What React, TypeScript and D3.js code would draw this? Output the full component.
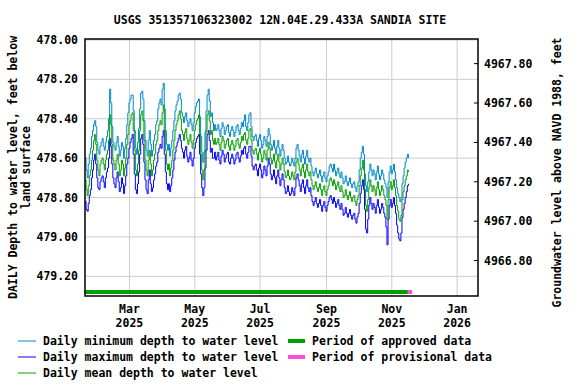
import * as d3 from "d3";

// site + axis setup
const title = "USGS 351357106323002 12N.04E.29.433A SANDIA SITE";
const leftTitle = ["DAILY Depth to water level, feet below", "land surface"];
const rightTitle = "Groundwater level above NAVD 1988, feet";
const landSurface = 5445.92; // elevation of land surface, feet NAVD 1988
const depthTicks = [478.0, 478.2, 478.4, 478.6, 478.8, 479.0, 479.2];
const elevTicks = [4967.8, 4967.6, 4967.4, 4967.2, 4967.0, 4966.8];
const firstDay = new Date(2025, 0, 18, 12);

// daily depth to water, feet below land surface (first value = Jan 18 2025)
const meanDepth = [
  478.71, 478.76, 478.79, 478.74, 478.69, 478.66, 478.61, 478.56, 478.51, 478.48,
  478.53, 478.61, 478.66, 478.69, 478.63, 478.61, 478.6, 478.63, 478.66, 478.61,
  478.58, 478.56, 478.51, 478.38, 478.43, 478.53, 478.61, 478.63, 478.66, 478.61,
  478.58, 478.63, 478.69, 478.66, 478.61, 478.63, 478.69, 478.65, 478.6, 478.53,
  478.48, 478.43, 478.41, 478.38, 478.37, 478.46, 478.56, 478.66, 478.69, 478.63,
  478.56, 478.46, 478.38, 478.36, 478.41, 478.51, 478.61, 478.66, 478.69, 478.61,
  478.56, 478.63, 478.69, 478.66, 478.61, 478.58, 478.53, 478.51, 478.46, 478.43,
  478.41, 478.43, 478.37, 478.33, 478.46, 478.56, 478.63, 478.66, 478.63, 478.69,
  478.65, 478.61, 478.56, 478.51, 478.46, 478.43, 478.41, 478.38, 478.36, 478.4,
  478.46, 478.48, 478.51, 478.47, 478.45, 478.5, 478.53, 478.51, 478.48, 478.52,
  478.55, 478.51, 478.46, 478.43, 478.41, 478.4, 478.38, 478.48, 478.58, 478.66,
  478.71, 478.66, 478.56, 478.46, 478.38, 478.36, 478.41, 478.48, 478.46, 478.51,
  478.53, 478.5, 478.53, 478.52, 478.5, 478.53, 478.56, 478.52, 478.49, 478.51,
  478.55, 478.53, 478.51, 478.5, 478.54, 478.56, 478.53, 478.51, 478.53, 478.56,
  478.54, 478.51, 478.5, 478.53, 478.55, 478.52, 478.49, 478.51, 478.48, 478.47,
  478.51, 478.53, 478.5, 478.46, 478.45, 478.51, 478.56, 478.58, 478.56, 478.55,
  478.58, 478.61, 478.57, 478.55, 478.58, 478.62, 478.6, 478.56, 478.58, 478.61,
  478.56, 478.52, 478.55, 478.6, 478.63, 478.61, 478.58, 478.62, 478.65, 478.61,
  478.58, 478.62, 478.66, 478.63, 478.6, 478.63, 478.67, 478.7, 478.69, 478.66,
  478.69, 478.71, 478.7, 478.67, 478.69, 478.71, 478.67, 478.62, 478.6, 478.63,
  478.66, 478.69, 478.65, 478.63, 478.67, 478.7, 478.66, 478.63, 478.67, 478.69,
  478.67, 478.71, 478.74, 478.76, 478.74, 478.72, 478.75, 478.77, 478.75, 478.73,
  478.76, 478.79, 478.76, 478.74, 478.77, 478.79, 478.76, 478.74, 478.71, 478.7,
  478.72, 478.74, 478.71, 478.73, 478.76, 478.74, 478.72, 478.75, 478.77, 478.74,
  478.77, 478.8, 478.79, 478.76, 478.79, 478.81, 478.79, 478.77, 478.8, 478.82,
  478.8, 478.79, 478.82, 478.84, 478.81, 478.79, 478.74, 478.69, 478.65, 478.61,
  478.66, 478.76, 478.84, 478.87, 478.81, 478.75, 478.71, 478.74, 478.77, 478.74,
  478.76, 478.79, 478.75, 478.72, 478.76, 478.79, 478.77, 478.74, 478.76, 478.79,
  478.81, 478.84, 478.91, 478.81, 478.75, 478.72, 478.76, 478.74, 478.71, 478.75,
  478.79, 478.84, 478.87, 478.91, 478.92, 478.89, 478.81, 478.77, 478.74, 478.71,
  478.69, 478.66, 478.67,
];

const minDepth = [
  478.6, 478.66, 478.7, 478.63, 478.58, 478.55, 478.49, 478.46, 478.43, 478.41,
  478.44, 478.52, 478.56, 478.58, 478.54, 478.52, 478.5, 478.54, 478.56, 478.52,
  478.49, 478.46, 478.4, 478.25, 478.32, 478.44, 478.52, 478.54, 478.56, 478.52,
  478.49, 478.54, 478.59, 478.56, 478.52, 478.54, 478.6, 478.55, 478.5, 478.43,
  478.37, 478.32, 478.3, 478.28, 478.28, 478.36, 478.46, 478.55, 478.58, 478.52,
  478.45, 478.35, 478.27, 478.26, 478.3, 478.41, 478.51, 478.56, 478.59, 478.51,
  478.46, 478.53, 478.59, 478.56, 478.51, 478.48, 478.43, 478.41, 478.35, 478.32,
  478.3, 478.33, 478.25, 478.22, 478.35, 478.46, 478.53, 478.56, 478.53, 478.59,
  478.55, 478.51, 478.46, 478.41, 478.36, 478.33, 478.31, 478.28, 478.27, 478.3,
  478.37, 478.39, 478.42, 478.39, 478.37, 478.41, 478.44, 478.42, 478.4, 478.43,
  478.46, 478.42, 478.37, 478.34, 478.32, 478.31, 478.3, 478.39, 478.49, 478.57,
  478.62, 478.57, 478.47, 478.36, 478.28, 478.25, 478.31, 478.39, 478.37, 478.42,
  478.46, 478.43, 478.46, 478.45, 478.43, 478.46, 478.49, 478.45, 478.42, 478.44,
  478.48, 478.46, 478.44, 478.43, 478.47, 478.49, 478.46, 478.44, 478.46, 478.49,
  478.47, 478.44, 478.43, 478.46, 478.48, 478.45, 478.42, 478.44, 478.41, 478.38,
  478.44, 478.46, 478.42, 478.38, 478.37, 478.44, 478.49, 478.51, 478.49, 478.48,
  478.51, 478.54, 478.5, 478.48, 478.51, 478.55, 478.53, 478.49, 478.51, 478.54,
  478.49, 478.45, 478.48, 478.53, 478.56, 478.54, 478.51, 478.55, 478.58, 478.54,
  478.51, 478.55, 478.59, 478.56, 478.53, 478.56, 478.6, 478.63, 478.62, 478.59,
  478.62, 478.64, 478.63, 478.6, 478.62, 478.64, 478.6, 478.55, 478.53, 478.56,
  478.59, 478.62, 478.58, 478.56, 478.6, 478.63, 478.59, 478.56, 478.6, 478.62,
  478.6, 478.64, 478.67, 478.69, 478.67, 478.65, 478.68, 478.7, 478.68, 478.66,
  478.69, 478.72, 478.69, 478.67, 478.7, 478.72, 478.69, 478.67, 478.64, 478.63,
  478.65, 478.67, 478.63, 478.66, 478.69, 478.67, 478.65, 478.68, 478.7, 478.67,
  478.7, 478.73, 478.72, 478.69, 478.72, 478.74, 478.72, 478.7, 478.73, 478.75,
  478.73, 478.72, 478.75, 478.77, 478.74, 478.72, 478.66, 478.6, 478.57, 478.54,
  478.58, 478.68, 478.74, 478.77, 478.72, 478.67, 478.63, 478.66, 478.69, 478.66,
  478.68, 478.71, 478.67, 478.64, 478.68, 478.71, 478.69, 478.66, 478.68, 478.71,
  478.73, 478.75, 478.8, 478.72, 478.67, 478.64, 478.68, 478.66, 478.63, 478.67,
  478.71, 478.75, 478.78, 478.8, 478.82, 478.8, 478.73, 478.69, 478.65, 478.62,
  478.6, 478.58, 478.6,
];

const maxDepth = [
  478.82, 478.86, 478.87, 478.83, 478.79, 478.76, 478.7, 478.66, 478.61, 478.58,
  478.63, 478.7, 478.75, 478.76, 478.72, 478.7, 478.69, 478.72, 478.75, 478.7,
  478.67, 478.65, 478.6, 478.5, 478.54, 478.63, 478.7, 478.73, 478.75, 478.7,
  478.67, 478.72, 478.77, 478.75, 478.7, 478.73, 478.78, 478.74, 478.69, 478.63,
  478.6, 478.55, 478.52, 478.5, 478.48, 478.58, 478.68, 478.76, 478.78, 478.73,
  478.67, 478.58, 478.5, 478.48, 478.53, 478.62, 478.71, 478.76, 478.78, 478.71,
  478.66, 478.73, 478.77, 478.75, 478.71, 478.68, 478.64, 478.62, 478.57, 478.55,
  478.53, 478.55, 478.49, 478.46, 478.58, 478.67, 478.73, 478.76, 478.73, 478.77,
  478.74, 478.7, 478.66, 478.61, 478.57, 478.54, 478.52, 478.5, 478.48, 478.51,
  478.55, 478.57, 478.6, 478.56, 478.54, 478.59, 478.62, 478.6, 478.57, 478.61,
  478.64, 478.6, 478.55, 478.52, 478.5, 478.49, 478.48, 478.58, 478.68, 478.75,
  478.79, 478.75, 478.65, 478.56, 478.48, 478.46, 478.51, 478.57, 478.55, 478.6,
  478.6, 478.57, 478.61, 478.59, 478.57, 478.61, 478.63, 478.59, 478.56, 478.58,
  478.62, 478.6, 478.58, 478.57, 478.62, 478.63, 478.6, 478.58, 478.6, 478.63,
  478.61, 478.58, 478.57, 478.6, 478.62, 478.59, 478.56, 478.58, 478.55, 478.54,
  478.58, 478.6, 478.57, 478.54, 478.54, 478.59, 478.64, 478.66, 478.64, 478.63,
  478.66, 478.69, 478.65, 478.63, 478.66, 478.7, 478.68, 478.64, 478.66, 478.69,
  478.64, 478.6, 478.63, 478.68, 478.71, 478.69, 478.66, 478.7, 478.73, 478.69,
  478.66, 478.7, 478.74, 478.71, 478.68, 478.71, 478.75, 478.78, 478.77, 478.74,
  478.77, 478.79, 478.78, 478.75, 478.77, 478.79, 478.75, 478.7, 478.68, 478.71,
  478.74, 478.77, 478.73, 478.71, 478.75, 478.78, 478.74, 478.71, 478.75, 478.77,
  478.75, 478.79, 478.82, 478.84, 478.82, 478.8, 478.83, 478.85, 478.83, 478.81,
  478.84, 478.87, 478.84, 478.82, 478.85, 478.87, 478.84, 478.82, 478.8, 478.79,
  478.81, 478.83, 478.8, 478.82, 478.85, 478.83, 478.81, 478.84, 478.86, 478.83,
  478.86, 478.89, 478.88, 478.85, 478.88, 478.9, 478.88, 478.86, 478.89, 478.91,
  478.89, 478.88, 478.91, 478.93, 478.9, 478.88, 478.83, 478.78, 478.74, 478.71,
  478.76, 478.86, 478.96, 478.98, 478.91, 478.84, 478.8, 478.83, 478.86, 478.83,
  478.85, 478.88, 478.84, 478.81, 478.85, 478.88, 478.86, 478.83, 478.85, 478.88,
  478.9, 478.95, 479.04, 478.91, 478.84, 478.81, 478.85, 478.83, 478.8, 478.84,
  478.88, 478.94, 478.98, 479.01, 479.02, 478.98, 478.9, 478.86, 478.83, 478.8,
  478.77, 478.74, 478.73,
];

// approval periods
const periods = [
  { label: "Period of approved data", start: new Date(2025, 0, 18), end: new Date(2025, 10, 16), color: "#00a000" },
  { label: "Period of provisional data", start: new Date(2025, 10, 16), end: new Date(2025, 10, 20), color: "#ff4ddb" },
];

const series = [
  { label: "Daily minimum depth to water level", values: minDepth, color: "#0088cc" },
  { label: "Daily maximum depth to water level", values: maxDepth, color: "#0000ff" },
  { label: "Daily mean depth to water level", values: meanDepth, color: "#00a000" },
];

const width = 576;
const height = 384;
const plot = { left: 85, right: 478, top: 39, bottom: 296 };
const font = { fontFamily: "'DejaVu Sans Mono', monospace", fontWeight: "bold" as const, fontSize: 11.5 };

export default function App() {
  const x = d3
    .scaleTime()
    .domain([new Date(2025, 0, 18, 12), new Date(2026, 0, 20, 12)])
    .range([plot.left, plot.right]);
  const y = d3.scaleLinear().domain([477.995, 479.3]).range([plot.top, plot.bottom]);

  const monthTicks = x.ticks(d3.timeMonth.every(2));
  const fmtMon = d3.timeFormat("%b");
  const fmtYear = d3.timeFormat("%Y");

  const line = d3
    .line<number>()
    .x((_, i) => x(d3.timeDay.offset(firstDay, i)))
    .y((d) => y(d))
    .curve(d3.curveStepAfter);

  const midY = (plot.top + plot.bottom) / 2;

  return (
    <svg
      width={width}
      height={height}
      style={{ position: "absolute", left: 0, top: 0, background: "#fff" }}
    >
      <text x={280} y={24} textAnchor="middle" {...font}>
        {title}
      </text>

      {/* grid */}
      {depthTicks.map((t) => (
        <line key={"h" + t} x1={plot.left} x2={plot.right} y1={y(t)} y2={y(t)} stroke="#cccccc" />
      ))}
      {monthTicks.map((t) => (
        <line key={"v" + t.getTime()} x1={x(t)} x2={x(t)} y1={plot.top} y2={plot.bottom} stroke="#cccccc" />
      ))}

      {/* data */}
      <g clipPath="url(#clip)">
        {series.map((s) => (
          <path key={s.label} d={line(s.values) ?? ""} fill="none" stroke={s.color} strokeWidth={1} />
        ))}
      </g>
      <defs>
        <clipPath id="clip">
          <rect x={plot.left} y={plot.top} width={plot.right - plot.left} height={plot.bottom - plot.top} />
        </clipPath>
      </defs>

      {periods.map((p) => (
        <line
          key={p.label}
          x1={Math.max(plot.left - 1, x(p.start))}
          x2={x(p.end)}
          y1={292}
          y2={292}
          stroke={p.color}
          strokeWidth={4}
        />
      ))}

      {/* right axis ticks */}
      {elevTicks.map((e) => (
        <g key={"r" + e}>
          <line x1={plot.right - 4} x2={plot.right} y1={y(landSurface - e)} y2={y(landSurface - e)} stroke="#000" />
          <text x={484} y={y(landSurface - e)} dy="0.35em" {...font}>
            {e.toFixed(2)}
          </text>
        </g>
      ))}

      <rect
        x={plot.left}
        y={plot.top}
        width={plot.right - plot.left}
        height={plot.bottom - plot.top}
        fill="none"
        stroke="#000"
        strokeWidth={1.5}
      />

      {/* left axis labels */}
      {depthTicks.map((t) => (
        <text key={"l" + t} x={78} y={y(t)} dy="0.35em" textAnchor="end" {...font}>
          {t.toFixed(2)}
        </text>
      ))}

      {/* x labels */}
      {monthTicks.map((t) => (
        <g key={"xl" + t.getTime()}>
          <text x={x(t)} y={313} textAnchor="middle" {...font}>
            {fmtMon(t)}
          </text>
          <text x={x(t)} y={327} textAnchor="middle" {...font}>
            {fmtYear(t)}
          </text>
        </g>
      ))}

      {/* axis titles */}
      <text transform={`translate(17,${midY}) rotate(-90)`} textAnchor="middle" {...font}>
        {leftTitle[0]}
      </text>
      <text transform={`translate(30,${midY}) rotate(-90)`} textAnchor="middle" {...font}>
        {leftTitle[1]}
      </text>
      <text transform={`translate(561,${midY + 5}) rotate(-90)`} textAnchor="middle" {...font}>
        {rightTitle}
      </text>

      {/* legend */}
      {series.map((s, i) => (
        <g key={"lg" + s.label} transform={`translate(18,${341 + i * 16})`}>
          <line x1={0} x2={18} y1={0} y2={0} stroke={s.color} strokeWidth={1} />
          <text x={25} y={0} dy="0.35em" {...font}>
            {s.label}
          </text>
        </g>
      ))}
      {periods.map((p, i) => (
        <g key={"lp" + p.label} transform={`translate(288,${341 + i * 16})`}>
          <line x1={0} x2={17} y1={0} y2={0} stroke={p.color} strokeWidth={4} />
          <text x={24} y={0} dy="0.35em" {...font}>
            {p.label}
          </text>
        </g>
      ))}
    </svg>
  );
}
